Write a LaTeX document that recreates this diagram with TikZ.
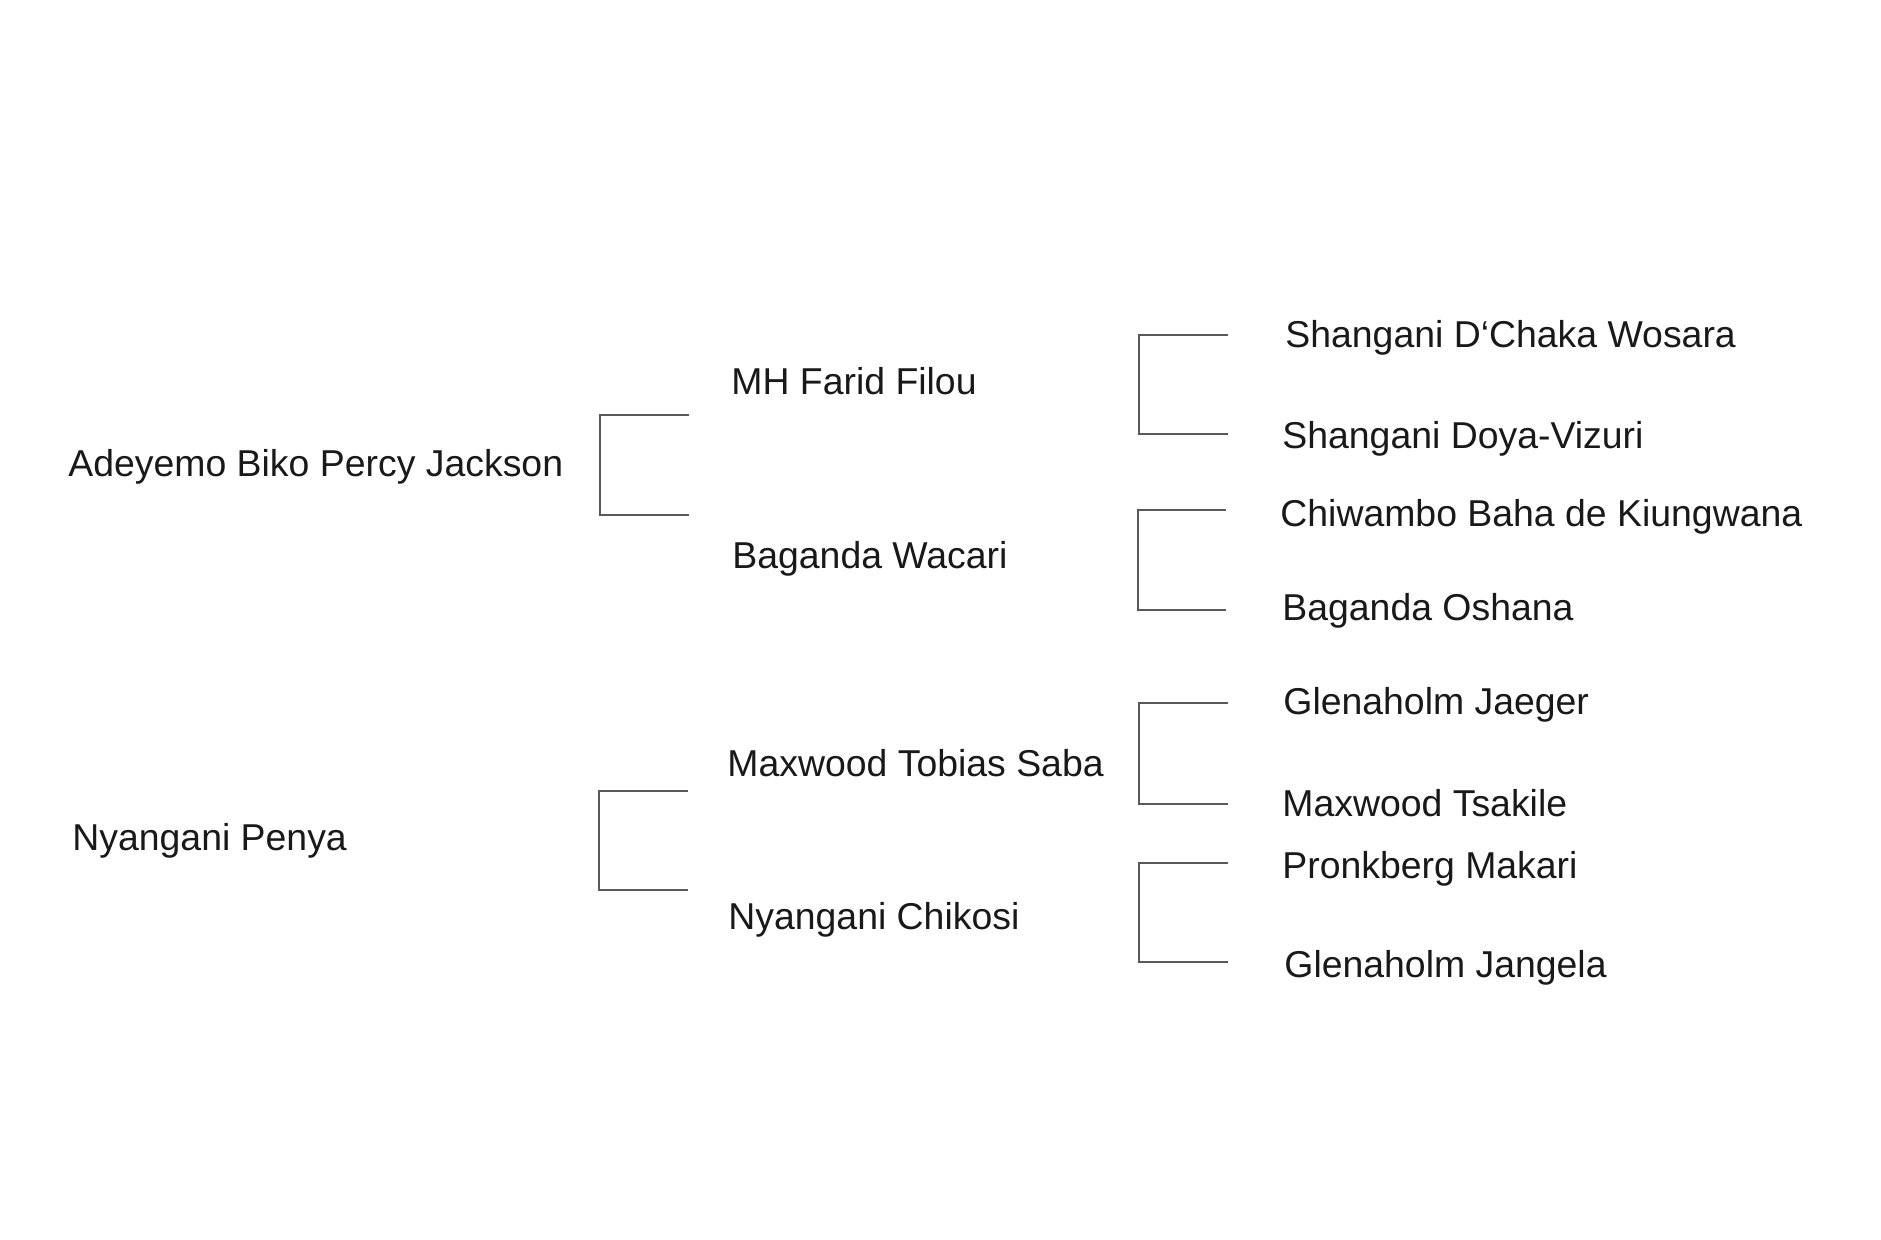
\documentclass[tikz,border=0pt]{standalone}
\usepackage{fontspec}
\setmainfont{Liberation Sans}
\tikzset{
    x=0.5pt,
    y=-0.5pt,
    horse/.style={
        anchor=base west,
        inner sep=0pt,
        font=\fontsize{18.7}{22}\selectfont,
        text=black!90,
    },
    bracket/.style={
        draw=black!65,
        line width=0.7pt,
    }
}
\begin{document}
\begin{tikzpicture}
    \useasboundingbox (0,0) rectangle (1881,1240);

    % generation 1
    \node[horse] (adeyemo) at (68,477) {Adeyemo Biko Percy Jackson};
    \node[horse] (penya) at (72,851) {Nyangani Penya};

    % generation 2
    \node[horse] (farid) at (731,395) {MH Farid Filou};
    \node[horse] (wacari) at (732,569) {Baganda Wacari};
    \node[horse] (saba) at (727,777) {Maxwood Tobias Saba};
    \node[horse] (chikosi) at (728,929) {Nyangani Chikosi};

    % generation 3
    \node[horse] (wosara) at (1285,348) {Shangani D‘Chaka Wosara};
    \node[horse] (vizuri) at (1282,449) {Shangani Doya-Vizuri};
    \node[horse] (kiungwana) at (1280,527) {Chiwambo Baha de Kiungwana};
    \node[horse] (oshana) at (1282,621) {Baganda Oshana};
    \node[horse] (jaeger) at (1283,715) {Glenaholm Jaeger};
    \node[horse] (tsakile) at (1282,817) {Maxwood Tsakile};
    \node[horse] (makari) at (1282,878) {Pronkberg Makari};
    \node[horse] (jangela) at (1284,977) {Glenaholm Jangela};

    % brackets
    \coordinate (adeyemo-t) at (689,415);
    \coordinate (adeyemo-b) at (689,515);
    \coordinate (penya-t) at (688,791);
    \coordinate (penya-b) at (688,890);
    \coordinate (farid-t) at (1228,335);
    \coordinate (farid-b) at (1228,434);
    \coordinate (wacari-t) at (1226,510);
    \coordinate (wacari-b) at (1226,610);
    \coordinate (saba-t) at (1228,703);
    \coordinate (saba-b) at (1228,804);
    \coordinate (chikosi-t) at (1228,863);
    \coordinate (chikosi-b) at (1228,962);

    \draw[bracket] (adeyemo-t) -- ++(-89,0) |- (adeyemo-b);
    \draw[bracket] (penya-t) -- ++(-89,0) |- (penya-b);
    \draw[bracket] (farid-t) -- ++(-89,0) |- (farid-b);
    \draw[bracket] (wacari-t) -- ++(-88,0) |- (wacari-b);
    \draw[bracket] (saba-t) -- ++(-89,0) |- (saba-b);
    \draw[bracket] (chikosi-t) -- ++(-89,0) |- (chikosi-b);
\end{tikzpicture}
\end{document}
